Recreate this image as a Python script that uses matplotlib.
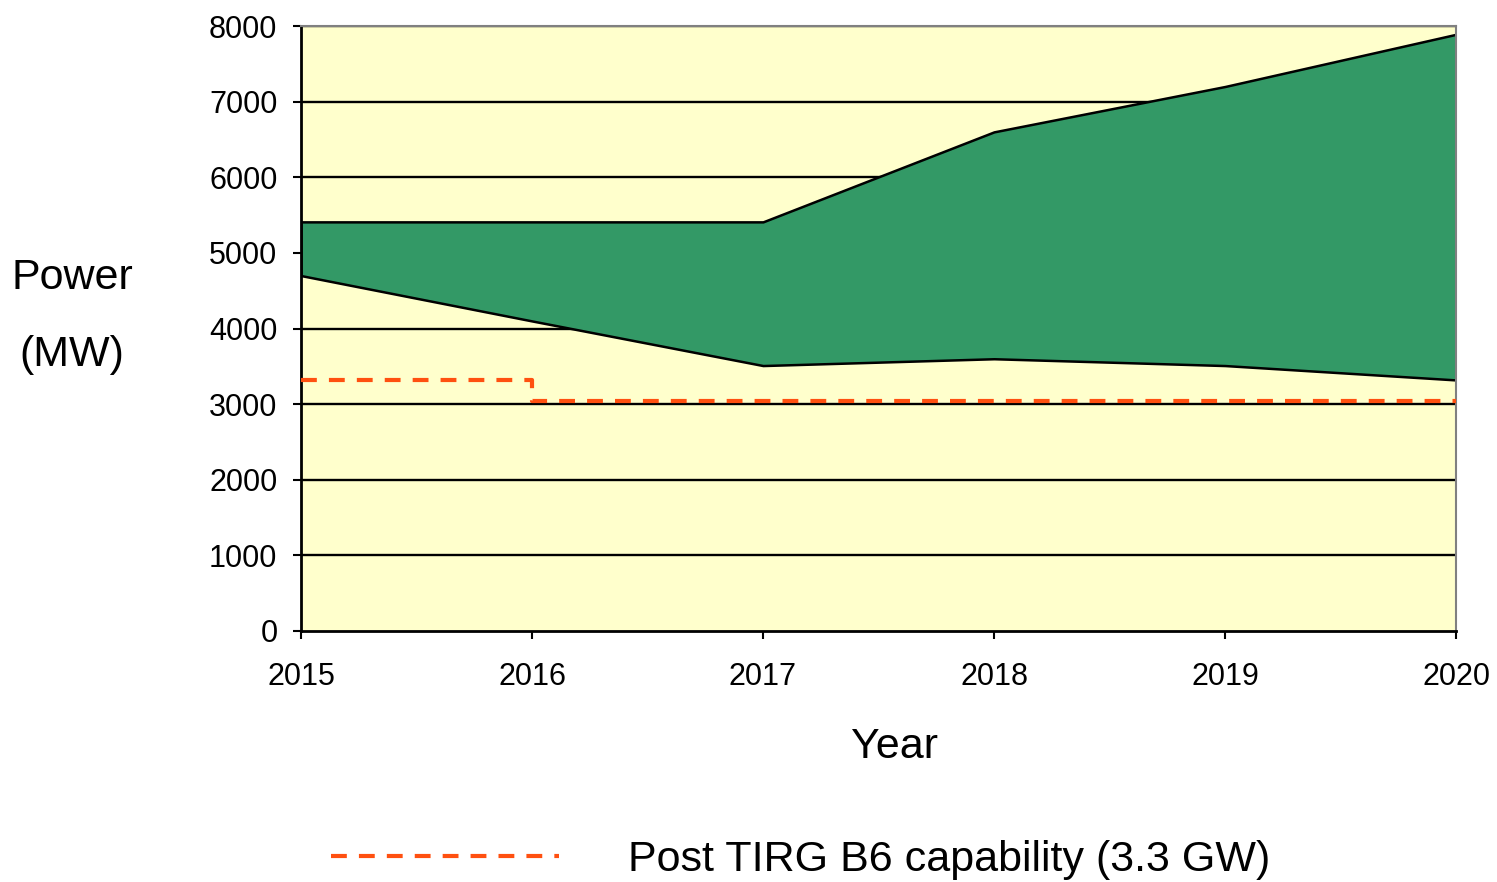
import matplotlib.pyplot as plt
from matplotlib.lines import Line2D

plt.rcParams['font.family'] = ['Liberation Sans', 'DejaVu Sans']

# data
years = [2015, 2016, 2017, 2018, 2019, 2020]
upper = [5410, 5410, 5410, 6600, 7200, 7890]
lower = [4700, 4100, 3510, 3600, 3510, 3320]
capability = [3320, 3040, 3040, 3040, 3040, 3040]
yticks = [0, 1000, 2000, 3000, 4000, 5000, 6000, 7000, 8000]

fig = plt.figure(figsize=(14.97, 8.82), dpi=100)
ax = fig.add_axes([301/1497, 1 - 631/882, (1456 - 301)/1497, (631 - 26)/882])
ax.set_facecolor('#FFFFCC')

# gridlines
for y in yticks[1:]:
    ax.axhline(y, color='black', lw=1.7, zorder=1)

ax.fill_between(years, lower, upper, facecolor='#339966', edgecolor='black',
                lw=1.8, zorder=2)
ax.plot(years, capability, drawstyle='steps-post', color='#FF5010', lw=3,
        dashes=(3.8, 2.9), zorder=3)

ax.set_xlim(2015, 2020)
ax.set_ylim(0, 8000)
ax.set_xticks(years)
ax.set_yticks(yticks)
ax.tick_params(axis='both', direction='out', length=6, width=1.5, labelsize=22)
ax.tick_params(axis='x', pad=16)
ax.tick_params(axis='y', pad=11)

for s in ['left', 'bottom']:
    ax.spines[s].set_color('black')
    ax.spines[s].set_linewidth(2)
for s in ['top', 'right']:
    ax.spines[s].set_color('#808080')
    ax.spines[s].set_linewidth(1.5)

fig.text(72/1497, 1 - 278/882, 'Power', fontsize=31, ha='center', va='center')
fig.text(72/1497, 1 - 355/882, '(MW)', fontsize=31, ha='center', va='center')
fig.text(895/1497, 1 - 747/882, 'Year', fontsize=31, ha='center', va='center')

handle = Line2D([], [], color='#FF5010', lw=3, dashes=(3.8, 2.9))
fig.legend([handle], ['Post TIRG B6 capability (3.3 GW)'], loc='center left',
           bbox_to_anchor=(331/1497, 1 - 860/882), frameon=False, fontsize=31,
           handlelength=5.3, handletextpad=1.6, borderpad=0, borderaxespad=0)

fig.savefig('out.png', dpi=100)
